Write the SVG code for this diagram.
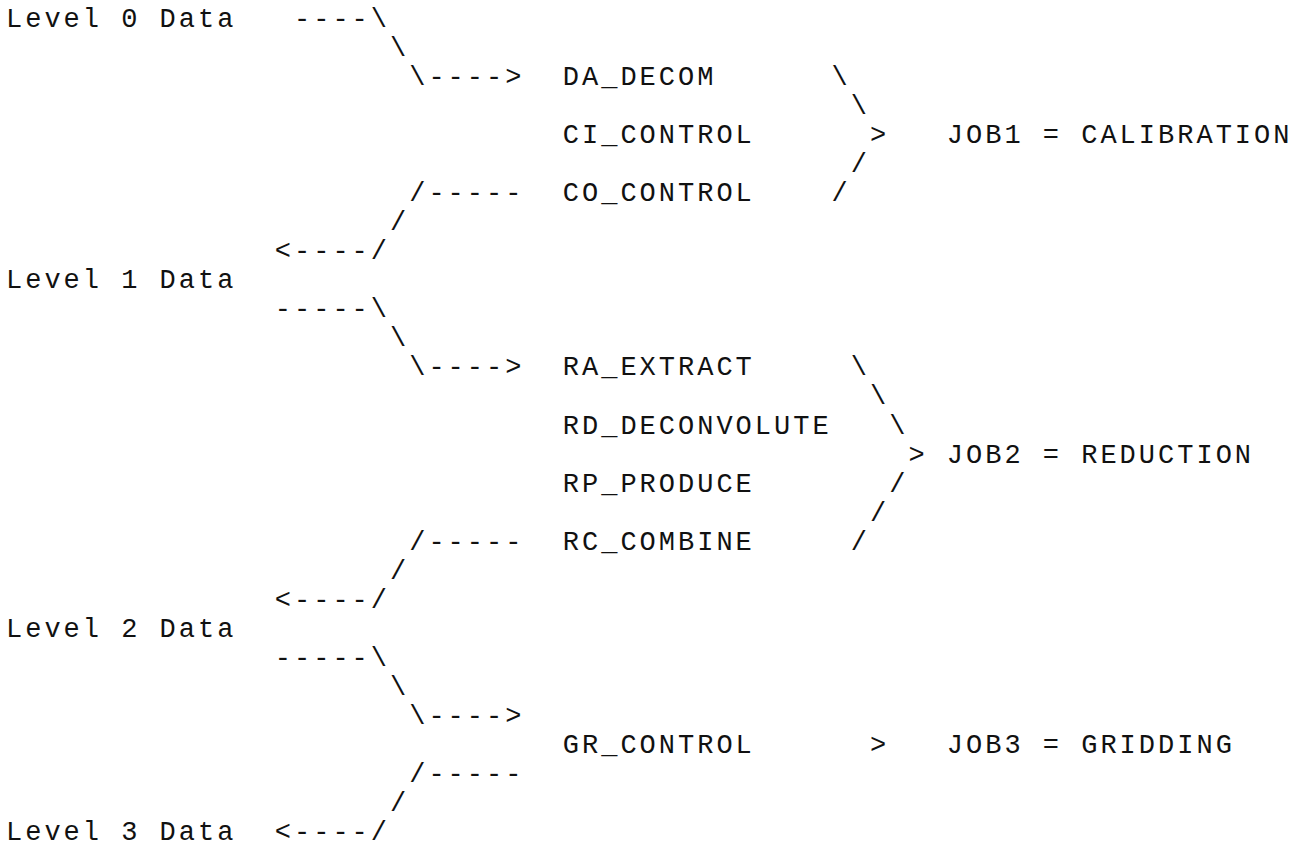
<svg xmlns="http://www.w3.org/2000/svg" width="1304" height="852" viewBox="0 0 1304 852">
<style>
text{font-family:"Liberation Mono","DejaVu Sans Mono",monospace;font-size:27px;letter-spacing:3px;fill:#111;white-space:pre}
</style>
<rect width="1304" height="852" fill="#fff"/>
<g id="connectors">
<text x="294" y="27">----\</text>
<text x="390" y="56">\</text>
<text x="409.2" y="85">\----&gt;</text>
<text x="831.6" y="85">\</text>
<text x="850.8" y="114">\</text>
<text x="870" y="143">&gt;</text>
<text x="850.8" y="172">/</text>
<text x="409.2" y="201">/-----</text>
<text x="831.6" y="201">/</text>
<text x="390" y="230">/</text>
<text x="274.8" y="259">&lt;----/</text>
<text x="274.8" y="317">-----\</text>
<text x="390" y="346">\</text>
<text x="409.2" y="375">\----&gt;</text>
<text x="850.8" y="375">\</text>
<text x="870" y="404">\</text>
<text x="889.2" y="434">\</text>
<text x="908.4" y="463">&gt;</text>
<text x="889.2" y="492">/</text>
<text x="870" y="521">/</text>
<text x="409.2" y="550">/-----</text>
<text x="850.8" y="550">/</text>
<text x="390" y="579">/</text>
<text x="274.8" y="608">&lt;----/</text>
<text x="274.8" y="666">-----\</text>
<text x="390" y="695">\</text>
<text x="409.2" y="724">\----&gt;</text>
<text x="870" y="753">&gt;</text>
<text x="409.2" y="782">/-----</text>
<text x="390" y="811">/</text>
<text x="274.8" y="840">&lt;----/</text>
</g>
<g id="level0"><text x="6" y="27">Level 0 Data</text></g>
<g id="level1"><text x="6" y="288">Level 1 Data</text></g>
<g id="level2"><text x="6" y="637">Level 2 Data</text></g>
<g id="level3"><text x="6" y="840">Level 3 Data</text></g>
<g id="da_decom"><text x="562.8" y="85">DA_DECOM</text></g>
<g id="ci_control"><text x="562.8" y="143">CI_CONTROL</text></g>
<g id="co_control"><text x="562.8" y="201">CO_CONTROL</text></g>
<g id="job1"><text x="946.8" y="143">JOB1 = CALIBRATION</text></g>
<g id="ra_extract"><text x="562.8" y="375">RA_EXTRACT</text></g>
<g id="rd_deconvolute"><text x="562.8" y="434">RD_DECONVOLUTE</text></g>
<g id="rp_produce"><text x="562.8" y="492">RP_PRODUCE</text></g>
<g id="rc_combine"><text x="562.8" y="550">RC_COMBINE</text></g>
<g id="job2"><text x="946.8" y="463">JOB2 = REDUCTION</text></g>
<g id="gr_control"><text x="562.8" y="753">GR_CONTROL</text></g>
<g id="job3"><text x="946.8" y="753">JOB3 = GRIDDING</text></g>
</svg>
